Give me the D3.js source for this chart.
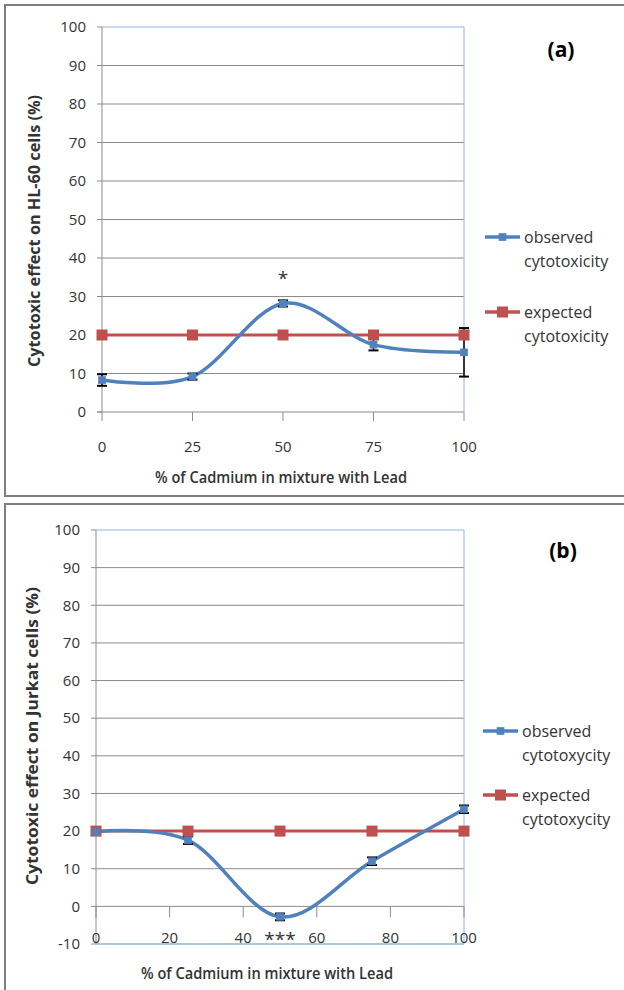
<!DOCTYPE html>
<html>
<head>
<meta charset="utf-8">
<script src="https://cdn.jsdelivr.net/npm/d3@7"></script>
<style>
  body { margin: 0; background: #fff; }
  svg text { font-family: "Open Sans", sans-serif; fill: #333; }
</style>
</head>
<body>
<svg id="chart" width="624" height="990"></svg>
<script>
// Panel (a): HL-60 cells.
const xValsA = [0, 25, 50, 75, 100];
const observedA = [8.3, 9.2, 28.2, 17.5, 15.5];
const observedErrA = [1.5, 0.8, 0.8, 1.5, 6.3];
const expectedA = [20, 20, 20, 20, 20];
const xTicksA = [0, 25, 50, 75, 100];
const yTicksA = [0, 10, 20, 30, 40, 50, 60, 70, 80, 90, 100];

// Panel (b): Jurkat cells.
const xValsB = [0, 25, 50, 75, 100];
const observedB = [19.8, 17.6, -2.8, 12.0, 25.8];
const observedErrB = [0.6, 1.0, 0.9, 1.0, 1.0];
const expectedB = [20, 20, 20, 20, 20];
const xTicksB = [0, 20, 40, 60, 80, 100];
const yTicksB = [-10, 0, 10, 20, 30, 40, 50, 60, 70, 80, 90, 100];

const blue = "#4F81BD";
const red = "#C0504D";
const gridCol = "#8c8c8c";
const frameBlue = "#8eb4e3";

const svg = d3.select("#chart");

// Outer panel frames.
svg.append("rect").attr("x", 5).attr("y", 5).attr("width", 640).attr("height", 491)
  .attr("fill", "none").attr("stroke", "#7f7f7f").attr("stroke-width", 2);
svg.append("rect").attr("x", 5).attr("y", 504).attr("width", 640).attr("height", 500)
  .attr("fill", "none").attr("stroke", "#7f7f7f").attr("stroke-width", 2);

function drawPanel(opt) {
  const g = svg.append("g");
  const x = d3.scaleLinear().domain([0, 100]).range([opt.left, opt.right]);
  const y = d3.scaleLinear().domain([opt.yMin, 100]).range([opt.bottom, opt.top]);

  // Horizontal gridlines, starting a little left of the axis (tick marks).
  g.selectAll(".grid").data(opt.yTicks.filter(d => d !== 100 && d !== opt.yMin || d === 0))
    .enter().append("line")
    .attr("x1", opt.left - 5).attr("x2", opt.right)
    .attr("y1", d => y(d)).attr("y2", d => y(d))
    .attr("stroke", gridCol).attr("stroke-width", 1);
  // ticks for the top and bottom values
  g.selectAll(".ytk").data([100, opt.yMin])
    .enter().append("line")
    .attr("x1", opt.left - 5).attr("x2", opt.left)
    .attr("y1", d => y(d)).attr("y2", d => y(d))
    .attr("stroke", gridCol);

  // Plot frame (top/right, and bottom for panel b).
  g.append("line").attr("x1", opt.left).attr("x2", opt.right)
    .attr("y1", y(100)).attr("y2", y(100)).attr("stroke", frameBlue);
  g.append("line").attr("x1", opt.right).attr("x2", opt.right)
    .attr("y1", y(100)).attr("y2", y(opt.yMin)).attr("stroke", frameBlue);
  if (opt.yMin < 0) {
    g.append("line").attr("x1", opt.left).attr("x2", opt.right)
      .attr("y1", y(opt.yMin)).attr("y2", y(opt.yMin)).attr("stroke", frameBlue).attr("stroke-width", 1.5);
  }
  // Y axis line.
  g.append("line").attr("x1", opt.left).attr("x2", opt.left)
    .attr("y1", y(100)).attr("y2", y(opt.yMin)).attr("stroke", gridCol);

  // X tick marks hang from the zero line.
  g.selectAll(".xtk").data(opt.xTicks)
    .enter().append("line")
    .attr("x1", d => x(d)).attr("x2", d => x(d))
    .attr("y1", y(0)).attr("y2", y(0) + opt.xTickLen)
    .attr("stroke", gridCol);

  // Y tick labels.
  g.selectAll(".ylab").data(opt.yTicks)
    .enter().append("text")
    .attr("x", opt.left - 16).attr("y", d => y(d))
    .attr("dy", "0.35em").attr("text-anchor", "end")
    .attr("font-size", 15).text(d => d);

  // X tick labels.
  g.selectAll(".xlab").data(opt.xTicks)
    .enter().append("text")
    .attr("x", d => x(d)).attr("y", opt.xLabelY)
    .attr("dy", "0.35em").attr("text-anchor", "middle")
    .attr("font-size", 15).text(d => d);

  // Axis titles (squeezed a bit, the original font is a narrow one).
  g.append("text").attr("x", opt.xTitleX).attr("y", opt.xTitleY)
    .attr("dy", "0.35em").attr("text-anchor", "middle")
    .attr("font-size", 16.5).attr("font-weight", 600)
    .attr("textLength", opt.xTitleLen).attr("lengthAdjust", "spacingAndGlyphs")
    .text(opt.xTitle);
  g.append("text")
    .attr("transform", "translate(" + opt.yTitleX + "," + opt.yTitleY + ") rotate(-90)")
    .attr("dy", "0.35em").attr("text-anchor", "middle")
    .attr("font-size", 16).attr("font-weight", "bold")
    .attr("textLength", opt.yTitleLen).attr("lengthAdjust", "spacingAndGlyphs")
    .text(opt.yTitle);

  // Expected series.
  const expPts = opt.xVals.map((d, i) => [x(d), y(opt.expected[i])]);
  g.append("path").attr("d", d3.line()(expPts))
    .attr("fill", "none").attr("stroke", red).attr("stroke-width", 3);

  // Observed series, smoothed.
  const obsPts = opt.xVals.map((d, i) => [x(d), y(opt.observed[i])]);
  g.append("path").attr("d", d3.line().curve(d3.curveCardinal.tension(0))(obsPts))
    .attr("fill", "none").attr("stroke", blue).attr("stroke-width", 3.5);

  // Error bars on observed.
  const eb = g.selectAll(".err").data(opt.xVals.map((d, i) => ({x: d, v: opt.observed[i], e: opt.err[i]})))
    .enter().append("g");
  eb.append("line")
    .attr("x1", d => x(d.x)).attr("x2", d => x(d.x))
    .attr("y1", d => y(d.v + d.e)).attr("y2", d => y(d.v - d.e))
    .attr("stroke", "#000").attr("stroke-width", 1.5);
  eb.append("line")
    .attr("x1", d => x(d.x) - 5).attr("x2", d => x(d.x) + 5)
    .attr("y1", d => y(d.v + d.e)).attr("y2", d => y(d.v + d.e))
    .attr("stroke", "#000").attr("stroke-width", 2);
  eb.append("line")
    .attr("x1", d => x(d.x) - 5).attr("x2", d => x(d.x) + 5)
    .attr("y1", d => y(d.v - d.e)).attr("y2", d => y(d.v - d.e))
    .attr("stroke", "#000").attr("stroke-width", 2);

  // Markers.
  g.selectAll(".sq").data(expPts).enter().append("rect")
    .attr("x", d => d[0] - 5.5).attr("y", d => d[1] - 5.5)
    .attr("width", 11).attr("height", 11).attr("fill", red);
  g.selectAll(".dm").data(obsPts).enter().append("path")
    .attr("d", d3.symbol().type(d3.symbolDiamond2).size(75))
    .attr("transform", d => "translate(" + d[0] + "," + d[1] + ") rotate(45)")
    .attr("fill", blue);

  // Significance star(s).
  g.append("text").attr("x", x(opt.starX)).attr("y", opt.starY)
    .attr("dy", "0.35em").attr("text-anchor", "middle")
    .attr("font-size", 19).text(opt.star);

  // Panel tag.
  g.append("text").attr("x", opt.tagX).attr("y", opt.tagY)
    .attr("dy", "0.35em").attr("text-anchor", "middle")
    .attr("font-size", 21).attr("font-weight", "bold").style("fill", "#000").text(opt.tag);

  // Legend.
  const leg = g.append("g");
  opt.legend.forEach((item, i) => {
    const ly = opt.legendY[i];
    leg.append("line").attr("x1", opt.legendX).attr("x2", opt.legendX + 35)
      .attr("y1", ly).attr("y2", ly).attr("stroke", item.color).attr("stroke-width", 3.5);
    if (item.marker === "square") {
      leg.append("rect").attr("x", opt.legendX + 12).attr("y", ly - 5.5)
        .attr("width", 11).attr("height", 11).attr("fill", item.color);
    } else {
      leg.append("path")
        .attr("d", d3.symbol().type(d3.symbolDiamond2).size(75))
        .attr("transform", "translate(" + (opt.legendX + 17.5) + "," + ly + ") rotate(45)")
        .attr("fill", item.color);
    }
    item.lines.forEach((t, k) => {
      leg.append("text").attr("x", opt.legendX + 39).attr("y", ly + k * 24)
        .attr("dy", "0.35em").attr("font-size", 16).text(t);
    });
  });
}

drawPanel({
  left: 102, right: 464, top: 27, bottom: 412, yMin: 0,
  xVals: xValsA, observed: observedA, err: observedErrA, expected: expectedA,
  xTicks: xTicksA, yTicks: yTicksA, xTickLen: 9, xLabelY: 447,
  xTitle: "% of Cadmium in mixture with Lead", xTitleX: 281, xTitleY: 477, xTitleLen: 252,
  yTitle: "Cytotoxic effect on HL-60 cells (%)", yTitleX: 34, yTitleY: 231, yTitleLen: 272,
  star: "*", starX: 50, starY: 278,
  tag: "(a)", tagX: 561, tagY: 50,
  legendX: 485, legendY: [237, 312],
  legend: [
    {color: blue, marker: "diamond", lines: ["observed", "cytotoxicity"]},
    {color: red, marker: "square", lines: ["expected", "cytotoxicity"]}
  ]
});

drawPanel({
  left: 96, right: 464, top: 530, bottom: 944, yMin: -10,
  xVals: xValsB, observed: observedB, err: observedErrB, expected: expectedB,
  xTicks: xTicksB, yTicks: yTicksB, xTickLen: 11, xLabelY: 938,
  xTitle: "% of Cadmium in mixture with Lead", xTitleX: 267, xTitleY: 973, xTitleLen: 252,
  yTitle: "Cytotoxic effect on Jurkat cells (%)", yTitleX: 32, yTitleY: 736, yTitleLen: 298,
  star: "***", starX: 50, starY: 939,
  tag: "(b)", tagX: 563, tagY: 551,
  legendX: 483, legendY: [731, 795],
  legend: [
    {color: blue, marker: "diamond", lines: ["observed", "cytotoxycity"]},
    {color: red, marker: "square", lines: ["expected", "cytotoxycity"]}
  ]
});
</script>
</body>
</html>
